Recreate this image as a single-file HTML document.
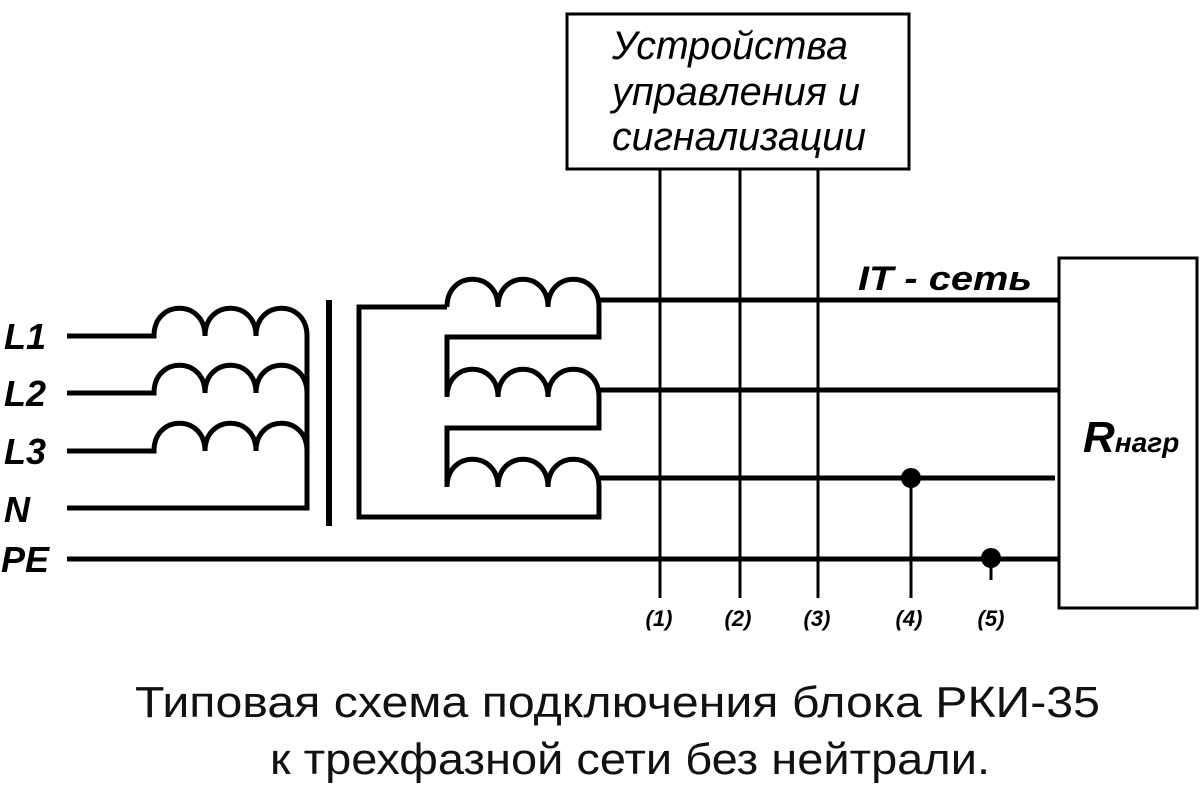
<!DOCTYPE html>
<html><head><meta charset="utf-8"><style>
html,body{margin:0;padding:0;background:#fff;}
svg{display:block;}
</style></head><body>
<svg width="1200" height="800" viewBox="0 0 1200 800" xmlns="http://www.w3.org/2000/svg">
<g fill="none" stroke="#000" stroke-width="5" stroke-linejoin="miter">
<!-- primary -->
<path d="M67,336 H154 C154,299 205,299 205,336 C205,299 256,299 256,336 C256,299 307,299 307,336 V508 H67"/>
<path d="M67,393 H154 C154,356 205,356 205,393 C205,356 256,356 256,393 C256,356 307,356 307,393"/>
<path d="M67,451 H154 C154,414 205,414 205,451 C205,414 256,414 256,451 C256,414 307,414 307,451"/>
<!-- secondary -->
<path d="M447,307 H359 V517 H599 V487 C599,450 548,450 548,487 C548,450 498,450 498,487 C498,450 447,450 447,487 V428 H599 V397 C599,360 548,360 548,397 C548,360 498,360 498,397 C498,360 447,360 447,397 V337 H599 V307 C599,270 548,270 548,307 C548,270 498,270 498,307 C498,270 447,270 447,307"/>
<path d="M599,300 H1058 M599,390 H1058 M599,478 H1055 M67,559 H1058"/>
</g>
<rect x="326" y="300" width="6" height="226" fill="#000"/>
<g stroke="#000" stroke-width="3" fill="none">
<rect x="567" y="14" width="342" height="155"/>
<rect x="1059" y="258" width="138" height="350"/>
<path d="M660,169 V598 M740,169 V598 M818,169 V598 M911,478 V598 M991,559 V580"/>
</g>
<circle cx="911" cy="478" r="10" fill="#000"/>
<circle cx="991" cy="558" r="10" fill="#000"/>
<g font-family="Liberation Sans, sans-serif" font-style="italic" fill="#000">
<text x="612" y="59" font-size="40" textLength="236" lengthAdjust="spacingAndGlyphs">Устройства</text>
<text x="612" y="105" font-size="40" textLength="248" lengthAdjust="spacingAndGlyphs">управления и</text>
<text x="612" y="150" font-size="40" textLength="254" lengthAdjust="spacingAndGlyphs">сигнализации</text>
<g font-weight="bold" font-size="36">
<text x="4" y="349">L1</text>
<text x="4" y="406">L2</text>
<text x="4" y="464">L3</text>
<text x="4" y="522">N</text>
<text x="1" y="572">PE</text>
<text x="858" y="290" font-size="34" textLength="174" lengthAdjust="spacingAndGlyphs">IT - сеть</text>
<text x="1083" y="452" font-size="44">R<tspan font-size="28">нагр</tspan></text>
</g>
<g font-weight="bold" font-size="22" text-anchor="middle">
<text x="659" y="626">(1)</text>
<text x="738" y="626">(2)</text>
<text x="817" y="626">(3)</text>
<text x="909" y="626">(4)</text>
<text x="991" y="626">(5)</text>
</g>
</g>
<g font-family="Liberation Sans, sans-serif" font-size="44" fill="#111">
<text x="135" y="717" textLength="965" lengthAdjust="spacingAndGlyphs">Типовая схема подключения блока РКИ-35</text>
<text x="270" y="774" textLength="720" lengthAdjust="spacingAndGlyphs">к трехфазной сети без нейтрали.</text>
</g>
</svg>
</body></html>
